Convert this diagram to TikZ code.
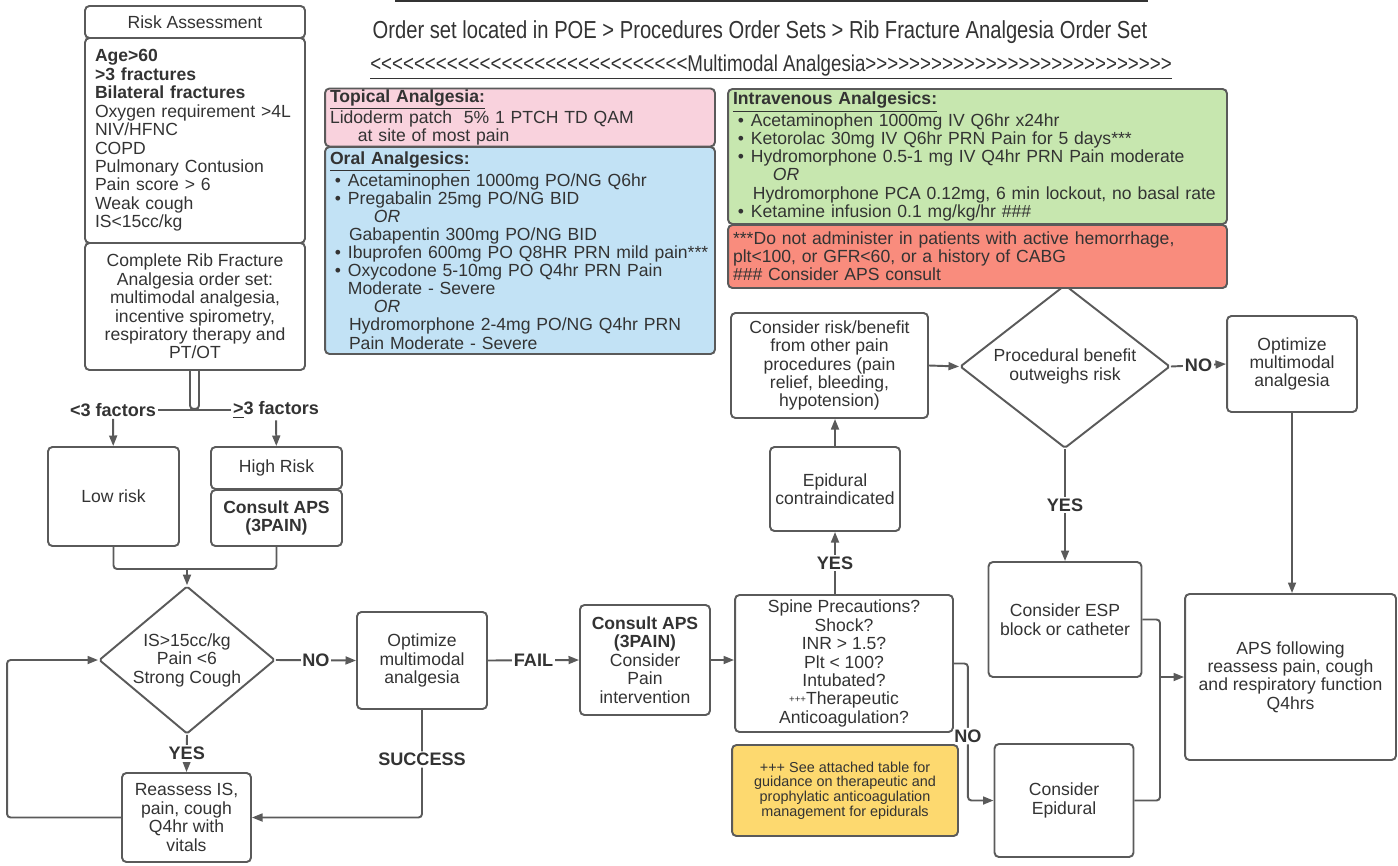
\documentclass[tikz,border=0pt]{standalone}
\usepackage{fontspec}
\setmainfont{Liberation Sans}
\newfontfamily\narrowfont[FakeStretch=0.82]{Liberation Sans}
\usetikzlibrary{shapes.geometric,arrows.meta,calc}
\definecolor{linec}{HTML}{5A5A5A}
\definecolor{txtc}{HTML}{333333}
\definecolor{pinkc}{HTML}{F9D2DD}
\definecolor{bluec}{HTML}{C2E2F5}
\definecolor{greenc}{HTML}{C7E7AF}
\definecolor{redc}{HTML}{F98C7D}
\definecolor{yellowc}{HTML}{FDD96F}
\newcommand{\bul}{\hspace*{2.8pt}\makebox[7.4pt][l]{\textbullet}}
\newcommand{\orline}[1]{\hspace*{#1}\textit{OR}}

\begin{document}
\begin{tikzpicture}[x=0.02cm, y=0.02cm]
\tikzstyle{box}=[draw=linec, line width=1.1pt, rounded corners=2.5pt, align=center, text=txtc, inner sep=2pt, font=\fontsize{10}{10.5}\selectfont]
\tikzstyle{dec}=[box, diamond, rounded corners=1pt, inner sep=-2pt]
\tikzstyle{med}=[box, align=left, inner xsep=0.1cm, inner ysep=0.5pt, font=\fontsize{10}{10.3}\selectfont]
\tikzstyle{lbl}=[fill=white, inner sep=1pt, text=txtc, font=\bfseries\fontsize{10.3}{11}\selectfont]
\tikzstyle{ln}=[draw=linec, line width=1.1pt]
\tikzstyle{arr}=[ln, -{Triangle[length=6pt,width=4.5pt]}]
\useasboundingbox (0,0) rectangle (1398,-865);
\draw [txtc, line width=1.3pt] (395,-1) -- (1148,-1);
\node [text=txtc, font=\narrowfont\fontsize{14}{15}\selectfont] (hdr) at (760,-32) {Order set located in POE > Procedures Order Sets > Rib Fracture Analgesia Order Set};
\node [text=txtc, font=\narrowfont\fontsize{13}{14}\selectfont] (mm) at (771,-67) {\underline{<<<<<<<<<<<<<<<<<<<<<<<<<<<<<Multimodal Analgesia>>>>>>>>>>>>>>>>>>>>>>>>>>>>}};
\node [box, minimum width=4.4cm, minimum height=0.64cm] (risk) at (195,-22) {Risk Assessment};
\node [box, align=left, text width=4.0cm, inner xsep=0.2cm, minimum height=4.1cm] (crit) at (195,-140.5) {\textbf{Age>60}\\ \textbf{>3 fractures}\\ \textbf{Bilateral fractures}\\ Oxygen requirement >4L\\ NIV/HFNC\\ COPD\\ Pulmonary Contusion\\ Pain score > 6\\ Weak cough\\ IS<15cc/kg};
\node [box, minimum width=4.4cm, minimum height=2.54cm] (complete) at (195,-306.5) {Complete Rib Fracture\\ Analgesia order set:\\ multimodal analgesia,\\ incentive spirometry,\\ respiratory therapy and\\ PT/OT};
\node [lbl] (lt3) at (113,-410) {<3 factors};
\node [lbl] (ge3) at (276,-410) {\underline{>}3 factors};
\node [box, minimum width=2.62cm, minimum height=1.98cm] (low) at (113.5,-496.5) {Low risk};
\node [box, minimum width=2.62cm, minimum height=0.84cm] (high) at (276.5,-468) {High Risk};
\node [box, minimum width=2.62cm, minimum height=1.12cm] (aps1) at (276.5,-518) {\textbf{Consult APS}\\ \textbf{(3PAIN)}};
\node [dec, minimum width=3.52cm, minimum height=2.72cm] (dia1) at (187,-660) {IS>15cc/kg\\ Pain <6\\ Strong Cough};
\node [box, minimum width=2.6cm, minimum height=1.94cm] (opt1) at (422,-660.5) {Optimize\\ multimodal\\ analgesia};
\node [box, minimum width=2.58cm, minimum height=1.78cm] (reas) at (186.5,-817.5) {Reassess IS,\\ pain, cough\\ Q4hr with\\ vitals};
\node [box, minimum width=2.6cm, minimum height=2.2cm] (aps2) at (645,-660) {\textbf{Consult APS}\\ \textbf{(3PAIN)}\\ Consider\\ Pain\\ intervention};
\node [box, minimum width=4.36cm, minimum height=2.74cm] (spine) at (844,-663.5) {Spine Precautions?\\ Shock?\\ INR > 1.5?\\ Plt < 100?\\ Intubated?\\ \raisebox{1.5pt}{\fontsize{5.5}{6}\selectfont +++}Therapeutic\\ Anticoagulation?};
\node [box, fill=yellowc, minimum width=4.52cm, minimum height=1.82cm, font=\fontsize{8.2}{8.4}\selectfont] (note) at (845,-790.5) {+++ See attached table for\\ guidance on therapeutic and\\ prophylatic anticoagulation\\ management for epidurals};
\node [box, minimum width=2.6cm, minimum height=1.68cm] (epi) at (835,-489) {Epidural\\ contraindicated};
\node [box, minimum width=3.94cm, minimum height=2.1cm] (rb) at (829.5,-365.5) {Consider risk/benefit\\ from other pain\\ procedures (pain\\ relief, bleeding,\\ hypotension)};
\node [dec, minimum width=4.2cm, minimum height=2.54cm] (dia2) at (1065,-366.5) {Procedural benefit\\ outweighs risk};
\node [box, minimum width=2.6cm, minimum height=1.92cm] (opt2) at (1292,-364) {Optimize\\ multimodal\\ analgesia};
\node [box, minimum width=3.06cm, minimum height=2.3cm] (esp) at (1065,-619.5) {Consider ESP\\ block or catheter};
\node [box, minimum width=2.78cm, minimum height=2.26cm] (cepi) at (1064,-800.5) {Consider\\ Epidural};
\node [box, minimum width=4.22cm, minimum height=3.32cm] (apsf) at (1290.5,-677) {APS following\\ reassess pain, cough\\ and respiratory function\\ Q4hrs};
\node [med, fill=pinkc, text width=7.6cm, minimum height=1.14cm] (topical) at (520,-117.5) {\underline{\textbf{Topical Analgesia:}}\\ Lidoderm patch\ \ 5\% 1 PTCH TD QAM\\ \hspace*{15.9pt}at site of most pain};
\node [med, fill=bluec, text width=7.6cm, minimum height=4.14cm] (oral) at (520,-250.5) {\underline{\textbf{Oral Analgesics:}}\\ \bul Acetaminophen 1000mg PO/NG Q6hr\\ \bul Pregabalin 25mg PO/NG BID\\ \orline{25pt}\\ \hspace*{10.8pt}Gabapentin 300mg PO/NG BID\\ \mbox{\bul Ibuprofen 600mg PO Q8HR PRN mild pain***}\\ \bul Oxycodone 5-10mg PO Q4hr PRN Pain\\ \hspace*{10.2pt}Moderate - Severe\\ \orline{25pt}\\ \hspace*{10.8pt}Hydromorphone 2-4mg PO/NG Q4hr PRN\\ \hspace*{10.8pt}Pain Moderate - Severe};
\node [med, fill=greenc, text width=9.78cm, minimum height=2.7cm] (iv) at (977.5,-156.5) {\underline{\textbf{Intravenous Analgesics:}}\\ \bul Acetaminophen 1000mg IV Q6hr x24hr\\ \bul Ketorolac 30mg IV Q6hr PRN Pain for 5 days***\\ \bul Hydromorphone 0.5-1 mg IV Q4hr PRN Pain moderate\\ \orline{22.7pt}\\ \hspace*{11.3pt}Hydromorphone PCA 0.12mg, 6 min lockout, no basal rate\\ \bul Ketamine infusion 0.1 mg/kg/hr \#\#\#};
\node [med, fill=redc, text width=9.78cm, minimum height=1.26cm] (warn) at (977.5,-256.5) {***Do not administer in patients with active hemorrhage,\\ plt<100, or GFR<60, or a history of CABG\\ \#\#\# Consider APS consult};
\draw [ln, rounded corners=2pt] ($(complete.south)+(-5,0)$) |- ($(complete.south)+(4,-38)$) -- ($(complete.south)+(4,0)$);
\draw [ln] (lt3) -- (ge3);
\draw [arr] (lt3) -- (low);
\draw [arr] (ge3) -- (high);
\coordinate (m1) at (187,-569);
\draw [ln, rounded corners=2pt] (low.south) |- (m1) -| (aps1.south);
\draw [arr] (m1) -- (dia1.north);
\draw [arr] (dia1.east) -- node [lbl] (no1) {NO} (opt1.west);
\draw [arr] (opt1.east) -- node [lbl] (fail) {FAIL} (aps2.west);
\draw [arr] (aps2.east) -- (spine.west |- aps2.east);
\draw [arr] (dia1.south) -- node [lbl] (yes1) {YES} (reas.north);
\draw [arr, rounded corners=2pt] (reas.west) -- ++(-114,0) |- (dia1.west);
\draw [arr, rounded corners=2pt] (opt1.south) |- node [lbl, pos=0.23] (succ) {SUCCESS} (reas.east);
\draw [arr] (epi.south |- spine.north) -- node [lbl] (yes2) {YES} (epi.south);
\draw [arr] (epi.north) -- (epi.north |- rb.south);
\draw [arr] (rb.east) -- (dia2.west);
\draw [arr] (dia2.east) -- node [lbl] (no3) {NO} (opt2.west);
\draw [arr] (dia2.south) -- node [lbl] (yes3) {YES} (esp.north);
\draw [arr] (opt2.south) -- (opt2.south |- apsf.north);
\draw [arr, rounded corners=2pt] (spine.east) -- ++(14,0) |- node [lbl, pos=0.265] (no2) {NO} (cepi.west);
\coordinate (m2) at (1160,-677);
\draw [ln, rounded corners=2pt] (esp.east) -| (m2) |- (cepi.east);
\draw [arr] (m2) -- (apsf.west);
\end{tikzpicture}
\end{document}
